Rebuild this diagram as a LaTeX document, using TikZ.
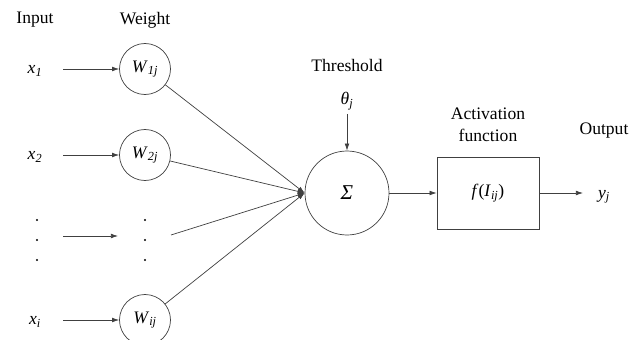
\documentclass[tikz,border=0pt]{standalone}
\usepackage{fontspec}
\setmainfont{Liberation Serif}
\usetikzlibrary{arrows.meta}
\newcommand{\wlab}[1]{\textit{W}\textsubscript{\textit{#1}}}
\newcommand{\xlab}[1]{\textit{x}\textsubscript{\textit{#1}}}

\begin{document}
\begin{tikzpicture}[x=0.03cm,y=-0.03cm,
   font=\fontsize{15}{18}\selectfont,
   >={Latex[length=6pt,width=4pt]},
   link/.style={draw=black!75,line width=0.6pt},
   wcirc/.style={draw=black!75,line width=0.6pt,circle,minimum size=1.53cm,inner sep=0pt},
   dotmark/.style={fill=black}]
   \useasboundingbox (0,0) rectangle (641,340);
   % headings
   \node (hin) at (35,20) {Input};
   \node (hw) at (145,20) {Weight};
   \node (hth) at (347,65) {Threshold};
   \node[align=center,text depth=0pt] (hact) at (488,125) {Activation\\[1pt]function};
   \node (hout) at (604,131) {Output};
   % inputs
   \node (x1) at (35,71) {\xlab{1}};
   \node (x2) at (35,157) {\xlab{2}};
   \node (xi) at (35,322) {\xlab{i}};
   \coordinate (s1) at (63,69);
   \coordinate (s2) at (63,155);
   \coordinate (sd) at (63,236);
   \coordinate (si) at (63,320);
   % weights
   \node[wcirc] (w1) at (145,69) {\wlab{1j}};
   \node[wcirc] (w2) at (145,155) {\wlab{2j}};
   \node[wcirc] (wi) at (145,320) {\wlab{ij}};
   \coordinate (wdin) at (118,236);
   \coordinate (wd) at (171,235);
   \foreach \yy in {220,240,260} {
      \fill[dotmark] (37,\yy) circle (1.2);
      \fill[dotmark] (145,\yy) circle (1.2);
   }
   % summation and activation
   \node[wcirc,minimum size=2.52cm,font=\fontsize{18}{20}\selectfont] (sum) at (347,193) {\textit{Σ}};
   \node (theta) at (347,101) {\textit{θ}\textsubscript{\textit{j}}};
   \node[draw=black!75,line width=0.6pt,minimum width=3.06cm,minimum height=2.16cm] (act) at (488,193) {\textit{f}(\textit{I}\textsubscript{\textit{ij}})};
   \node (yj) at (604,197) {\textit{y}\textsubscript{\textit{j}}};
   \coordinate (yin) at (583,193);
   % connectors
   \draw[link,->] (s1) -- (w1);
   \draw[link,->] (s2) -- (w2);
   \draw[link,->] (sd) -- (wdin);
   \draw[link,->] (si) -- (wi);
   \draw[link,->] (w1) -- (sum.west);
   \draw[link,->] (w2) -- (sum.west);
   \draw[link,->] (wd) -- (sum.west);
   \draw[link,->] (wi) -- (sum.west);
   \draw[link,->] (theta) -- (sum);
   \draw[link,->] (sum) -- (act);
   \draw[link,->] (act) -- (yin);
\end{tikzpicture}
\end{document}
